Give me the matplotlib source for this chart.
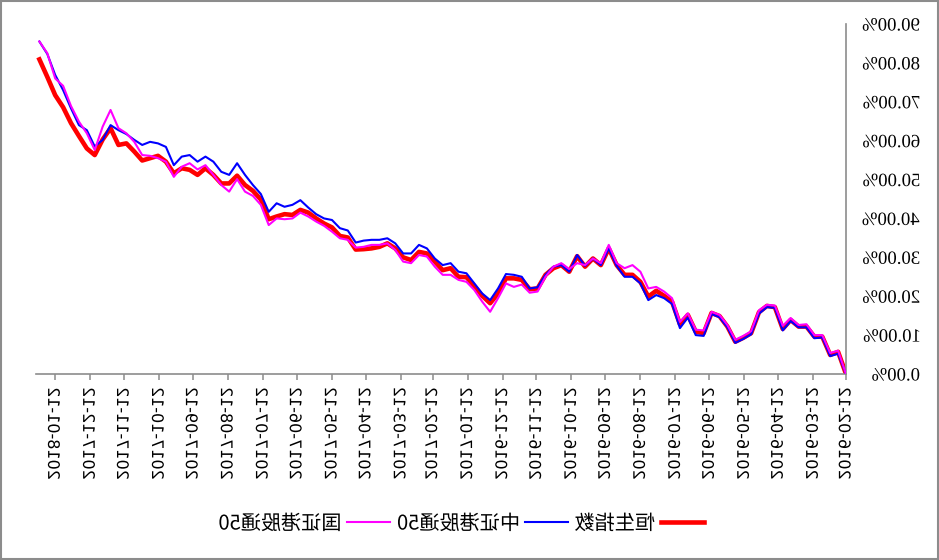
import matplotlib
matplotlib.use("Agg")
import matplotlib.pyplot as plt
import matplotlib.dates as mdates
import pandas as pd
from matplotlib.patheffects import AbstractPathEffect
from matplotlib.transforms import Affine2D
from matplotlib.ticker import FixedLocator
from matplotlib.patches import Rectangle

# ---------------- data (cumulative return, %) ----------------
dates = pd.date_range("2016-02-12", periods=103, freq="7D")

hsi = [0.0, 5.7, 4.9, 9.6, 9.6, 12.2, 12.2, 13.9, 11.6, 17.2,
       17.5, 15.9, 10.5, 9.3, 8.3, 12.2, 14.9, 15.7, 10.5, 10.9,
       15.2, 12.8, 18.6, 20.1, 21.4, 19.9, 23.7, 25.5, 25.5, 28.0,
       32.3, 28.0, 29.7, 27.6, 30.3, 26.3, 28.0, 27.2, 25.5, 22.0,
       21.8, 24.2, 24.6, 24.6, 20.7, 18.2, 20.1, 22.6, 24.9, 25.0,
       27.2, 26.7, 28.9, 31.0, 31.4, 29.3, 30.0, 32.3, 33.6, 32.7,
       32.3, 32.1, 32.0, 35.1, 35.5, 37.7, 38.7, 40.0, 41.5, 42.2,
       40.9, 41.1, 40.5, 39.8, 44.9, 47.1, 48.6, 51.0, 49.0, 49.0,
       51.2, 52.9, 51.2, 52.5, 52.9, 51.6, 54.6, 56.1, 55.5, 54.9,
       57.2, 59.3, 58.9, 63.2, 60.3, 56.3, 58.0, 61.2, 64.5, 68.6,
       71.7, 76.4, 80.9]

csi50 = [0.0, 5.2, 4.6, 9.4, 9.2, 12.0, 12.0, 13.6, 11.2, 17.0,
         17.2, 15.5, 10.2, 9.0, 8.0, 12.0, 14.6, 15.4, 9.8, 10.0,
         14.5, 11.8, 18.0, 19.5, 20.3, 19.0, 23.3, 25.0, 25.0, 27.8,
         32.3, 28.0, 29.7, 27.8, 30.6, 26.3, 28.0, 27.6, 25.5, 22.3,
         22.0, 25.0, 25.5, 25.7, 22.0, 19.0, 20.7, 23.3, 25.9, 26.3,
         28.5, 28.0, 29.7, 32.3, 33.2, 31.0, 31.0, 33.6, 34.9, 34.5,
         34.5, 34.3, 33.8, 36.9, 37.5, 39.6, 40.0, 41.1, 42.8, 44.7,
         43.5, 43.0, 43.9, 41.7, 46.3, 48.6, 51.2, 54.2, 51.2, 52.0,
         54.6, 55.9, 54.6, 56.3, 55.9, 53.7, 58.4, 59.3, 59.7, 58.9,
         60.2, 61.7, 62.7, 64.0, 60.2, 58.5, 62.7, 64.0, 68.3, 73.0,
         76.9, 82.3, 85.5]

cni50 = [0.0, 6.0, 5.4, 10.0, 10.0, 12.8, 12.6, 14.4, 12.4, 17.6,
         17.8, 16.4, 11.0, 9.8, 8.8, 12.6, 15.2, 16.0, 11.2, 11.4,
         15.6, 13.4, 19.5, 21.2, 22.4, 22.0, 26.3, 28.0, 27.2, 28.5,
         33.2, 28.5, 29.7, 28.0, 28.5, 27.0, 28.5, 27.6, 25.0, 21.2,
         20.9, 23.0, 22.4, 23.3, 19.5, 16.0, 18.6, 21.6, 23.7, 24.2,
         25.5, 25.5, 27.6, 30.2, 30.6, 28.5, 28.9, 31.9, 33.6, 33.2,
         33.2, 32.7, 32.5, 34.5, 34.9, 36.6, 38.1, 39.2, 40.5, 41.5,
         40.0, 39.8, 40.0, 38.3, 43.5, 45.8, 46.9, 50.1, 46.9, 48.6,
         51.2, 53.7, 52.6, 54.2, 53.3, 50.7, 54.6, 55.5, 56.1, 56.3,
         59.7, 61.9, 63.2, 67.9, 63.6, 57.6, 61.9, 64.9, 68.9, 74.1,
         76.0, 82.5, 85.5]

series_names = ["恒生指数", "中证港股通50", "国证港股通50"]

tick_labels = ["2016-02-12", "2016-03-12", "2016-04-12", "2016-05-12",
               "2016-06-12", "2016-07-12", "2016-08-12", "2016-09-12",
               "2016-10-12", "2016-11-12", "2016-12-12", "2017-01-12",
               "2017-02-12", "2017-03-12", "2017-04-12", "2017-05-12",
               "2017-06-12", "2017-07-12", "2017-08-12", "2017-09-12",
               "2017-10-12", "2017-11-12", "2017-12-12", "2018-01-12"]
y_ticks = [0, 10, 20, 30, 40, 50, 60, 70, 80, 90]


# ---------------- mirrored glyph rendering (reference is mirrored) ----------------
class Mirror(AbstractPathEffect):
    def draw_path(self, renderer, gc, tpath, affine, rgbFace=None):
        bb = tpath.get_extents(affine)
        cx = 0.5 * (bb.x0 + bb.x1)
        flip = Affine2D().translate(-cx, 0).scale(-1, 1).translate(cx, 0)
        renderer.draw_path(gc, tpath, affine + flip, rgbFace)


W, H = 939, 560
fig = plt.figure(figsize=(W / 100, H / 100), dpi=100)
fig.patch.set_facecolor("white")
ax = fig.add_axes([36 / W, 1 - 374 / H, 810 / W, 350 / H])

l_red, = ax.plot(dates, hsi, color="#FF0000", lw=3.3, label=series_names[0],
                 solid_joinstyle="round", zorder=2)
l_blue, = ax.plot(dates, csi50, color="#0000FF", lw=1.5, label=series_names[1], zorder=3)
l_mag, = ax.plot(dates, cni50, color="#FF00FF", lw=1.5, label=series_names[2], zorder=4)

ax.set_xlim(pd.Timestamp("2018-01-29"), pd.Timestamp("2016-02-12"))
ax.set_ylim(0, 90)

ax.xaxis.set_major_locator(FixedLocator(mdates.date2num(pd.to_datetime(tick_labels))))
ax.set_xticklabels(tick_labels, rotation=90, fontfamily="DejaVu Sans", fontsize=11.5)

ax.yaxis.tick_right()
ax.set_yticks(y_ticks)
ax.set_yticklabels([f"{v:.2f}%" for v in y_ticks], fontfamily="Liberation Serif",
                   fontsize=13.5, ha="right")
ax.tick_params(axis="y", length=0, pad=74 * 0.72)
ax.tick_params(axis="x", length=4.3, width=1.1, color="#8c8c8c", pad=5, direction="out")

for s in ["top", "left"]:
    ax.spines[s].set_visible(False)
for s in ["right", "bottom"]:
    ax.spines[s].set_color("#8c8c8c")
    ax.spines[s].set_linewidth(1.2)

leg = fig.legend([l_mag, l_blue, l_red], [series_names[2], series_names[1], series_names[0]],
                 loc="center", bbox_to_anchor=(461 / W, 1 - 524 / H), ncol=3,
                 frameon=False, markerfirst=False, handlelength=2.15,
                 handletextpad=0.3, columnspacing=0.3,
                 prop={"family": ["Noto Sans CJK SC", "DejaVu Sans"], "size": 14.5})

for t in ax.get_xticklabels() + ax.get_yticklabels() + leg.get_texts():
    t.set_path_effects([Mirror()])

fig.add_artist(Rectangle((0.001, 0.001), 0.998, 0.997, transform=fig.transFigure,
                         fill=False, ec="#8c8c8c", lw=1.5))

fig.savefig("out.png", dpi=100)
